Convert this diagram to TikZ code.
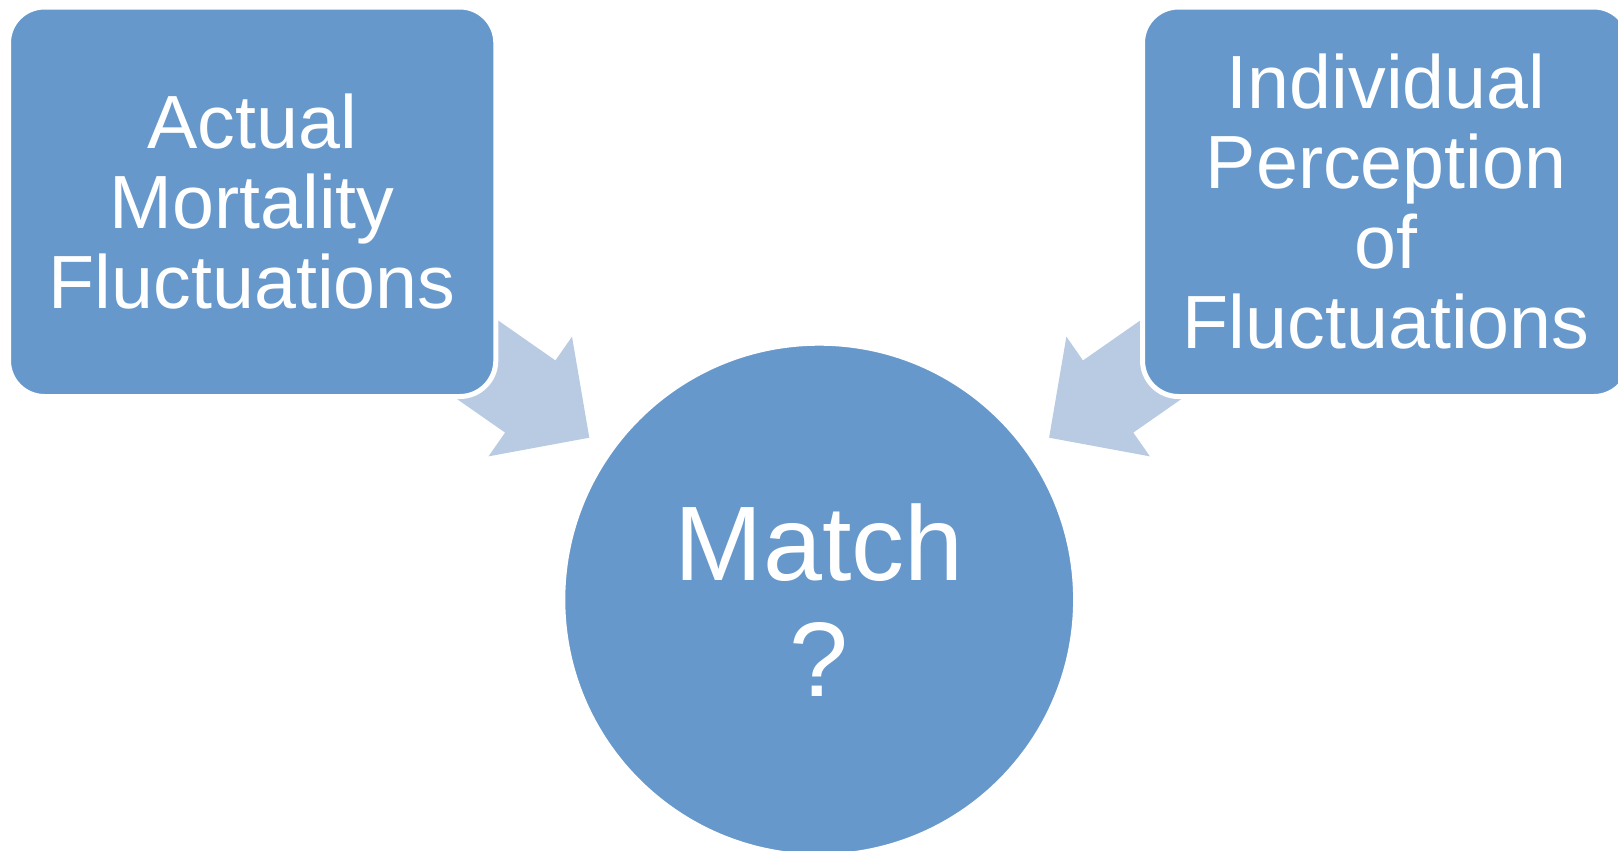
\documentclass[tikz,border=0pt]{standalone}
\usepackage{fontspec}
\setmainfont{Liberation Sans}
\usetikzlibrary{calc,backgrounds}
\definecolor{boxblue}{RGB}{103,152,203}
\definecolor{arrowblue}{RGB}{185,203,227}
\begin{document}
\begin{tikzpicture}[x=0.5pt,y=-0.5pt,
  blockbox/.style={rectangle, rounded corners=18pt, fill=boxblue, draw=white,
    line width=2.5pt, text=white, align=center, inner sep=0pt,
    minimum width=243.65pt, minimum height=194.75pt,
    font=\fontsize{37.7}{40}\selectfont},
  matchcircle/.style={circle, fill=boxblue, draw=white, line width=2.5pt,
    minimum size=256.4pt, inner sep=0pt, text=white, align=center,
    font=\fontsize{53}{58}\selectfont},
  bigarrow/.style={fill=arrowblue, draw=none}]
\useasboundingbox (0,0) rectangle (1618,851);

\node[blockbox] (actual) at (252.15,201.75) {Actual\\Mortality\\Fluctuations};
\node[blockbox] (perception) at (1386.15,201.75) {Individual\\Perception\\of\\Fluctuations};
\node[matchcircle] (match) at (819.2,599.6) {Match\\?};

\coordinate (ltip) at ($(match.center)+(-229.9,-161.9)$);
\coordinate (rtip) at ($(match.center)+(229.9,-161.9)$);

\begin{scope}[on background layer]
  \fill[bigarrow, shift={(ltip)}, rotate=-34.9]
    (0,0) -- (-72,73) -- (-72,44) -- (-185,44) -- (-185,-44) -- (-72,-44) -- (-72,-73) -- cycle;
  \fill[bigarrow, shift={(rtip)}, rotate=-145.1]
    (0,0) -- (-72,73) -- (-72,44) -- (-185,44) -- (-185,-44) -- (-72,-44) -- (-72,-73) -- cycle;
\end{scope}
\end{tikzpicture}
\end{document}
